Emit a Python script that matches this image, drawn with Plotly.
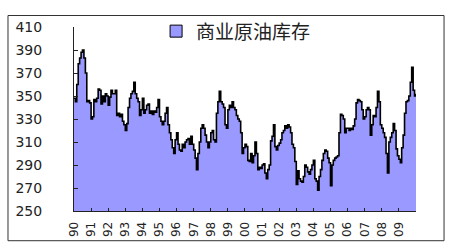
import plotly.graph_objects as go
import pandas as pd

SERIES_NAME = "商业原油库存"
START_MONTH = "1990-01-01"
YEAR_LABELS = ["90", "91", "92", "93", "94", "95", "96", "97", "98", "99",
               "00", "01", "02", "03", "04", "05", "06", "07", "08", "09"]
Y_TICKS = [250, 270, 290, 310, 330, 350, 370, 390, 410]

# monthly commercial crude stocks (Jan 1990 .. Jan 2010)
STOCKS_1990s = [
    348, 345, 360, 378, 383, 388, 390, 383, 370, 345, 346, 344,
    330, 332, 347, 345, 348, 356, 355, 343, 350, 345, 352, 350,
    342, 349, 355, 352, 352, 355, 333, 335, 332, 334, 328, 325,
    320, 326, 340, 348, 352, 354, 362, 352, 348, 345, 333, 338,
    348, 335, 338, 342, 343, 335, 337, 334, 337, 336, 340, 347,
    332, 328, 325, 328, 335, 340, 325, 318, 312, 305, 300, 312,
    318, 308, 303, 302, 308, 305, 310, 312, 313, 308, 315, 308,
    303, 296, 286, 300, 310, 322, 325, 322, 316, 310, 305, 310,
    318, 320, 312, 310, 335, 345, 354, 345, 343, 340, 325, 322,
    338, 342, 340, 345, 340, 338, 333, 330, 328, 318, 300, 305,
]
STOCKS_2000s = [
    308, 306, 294, 293, 300, 292, 298, 310, 300, 286, 288, 287,
    290, 291, 283, 278, 286, 290, 311, 315, 325, 306, 303, 307,
    309, 312, 318, 320, 324, 322, 325, 323, 318, 308, 305, 293,
    273, 285, 278, 276, 275, 280, 290, 288, 284, 282, 286, 290,
    294, 278, 276, 268, 280, 286, 294, 300, 303, 302, 296, 292,
    272, 290, 294, 296, 297, 298, 318, 334, 333, 330, 318, 322,
    322, 320, 322, 321, 324, 330, 344, 347, 346, 345, 338, 330,
    332, 338, 340, 338, 316, 325, 333, 332, 340, 354, 345, 325,
    322, 318, 314, 300, 283, 310, 314, 318, 326, 320, 304, 298,
    295, 292, 305, 316, 335, 345, 346, 350, 362, 375, 355, 350,
    352,
]

values = STOCKS_1990s + STOCKS_2000s
dates = pd.date_range(START_MONTH, periods=len(values), freq="MS")
year_ticks = pd.date_range(START_MONTH, periods=len(YEAR_LABELS), freq="YS")

FILL = "#9999FF"

fig = go.Figure()
fig.add_trace(go.Scatter(
    x=dates, y=values, name=SERIES_NAME, mode="lines", showlegend=False,
    line=dict(color="black", width=1.6, shape="hv"),
    fill="tozeroy", fillcolor=FILL,
))
# legend entry shown as a bordered square, like the original
fig.add_trace(go.Bar(
    x=[None], y=[None], name=SERIES_NAME, showlegend=True,
    marker=dict(color=FILL, line=dict(color="black", width=1)),
))

font_num = dict(family="DejaVu Sans", size=14, color="#222222")

fig.update_layout(
    width=450, height=250,
    margin=dict(l=74, r=34, t=19, b=39),
    paper_bgcolor="white", plot_bgcolor="white",
    showlegend=True,
    legend=dict(x=0.24, y=1.08, xanchor="left", yanchor="top",
                bgcolor="rgba(0,0,0,0)", itemwidth=30,
                font=dict(family="Noto Sans CJK SC", size=19, color="#222222")),
    shapes=[dict(type="rect", xref="paper", yref="paper",
                 x0=-0.193, x1=1.082, y0=-0.1615, y1=1.0625,
                 line=dict(color="#333333", width=1), layer="below")],
)
fig.update_xaxes(
    range=[dates[0], dates[-1]],
    tickvals=year_ticks, ticktext=YEAR_LABELS, tickangle=-90,
    ticks="inside", ticklen=3, tickcolor="#222222",
    showline=True, linecolor="#222222", linewidth=1,
    showgrid=False, zeroline=False,
    tickfont=dict(family="DejaVu Sans", size=12, color="#222222"),
    ticklabelstandoff=5,
)
fig.update_yaxes(
    range=[250, 410], tickvals=Y_TICKS,
    ticks="inside", ticklen=4, tickcolor="#222222",
    showline=True, linecolor="#222222", linewidth=1,
    showgrid=False, zeroline=False, tickfont=font_num,
    ticklabelstandoff=28,
)

fig.write_html("out.html")
